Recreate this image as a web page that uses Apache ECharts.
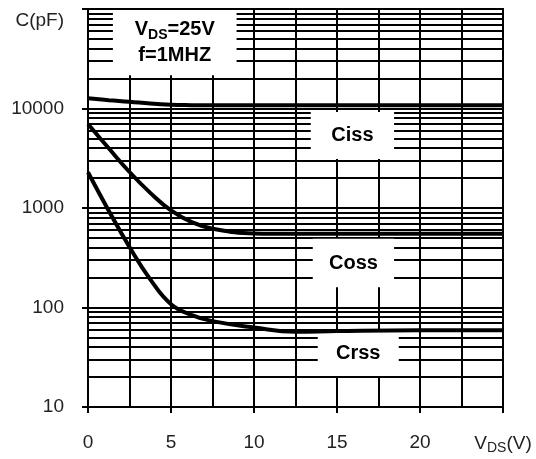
<!DOCTYPE html>
<html>
<head>
<meta charset="utf-8">
<script src="https://cdn.jsdelivr.net/npm/echarts@6/dist/echarts.min.js"></script>
<style>
  html, body { margin: 0; padding: 0; background: #fff; }
  #chart { width: 536px; height: 459px; }
</style>
</head>
<body>
<div id="chart"></div>
<script>
// Drain-source voltage samples (V) and the three capacitance curves (pF)
const voltage = [0, 1.25, 2.5, 3.75, 5, 6.25, 7.5, 10, 12.5, 15, 20, 25];
const ciss = [12650, 12130, 11700, 11200, 10900, 10800, 10750, 10750, 10750, 10750, 10750, 10750];
const coss = [7000, 3980, 2300, 1420, 945, 720, 620, 555, 550, 550, 550, 550];
const crss = [2290, 940, 405, 192, 108, 84, 73, 63, 57, 58, 59, 59];

// Axis ranges and log grid
const xMin = 0, xMax = 25, xStep = 5;
const yDecades = [10, 100, 1000, 10000, 100000];
const minorMultipliers = [2, 3, 4, 5, 6, 7, 8, 9];

const font = 'Liberation Sans, Arial, sans-serif';
const ink = '#000';
const labelInk = '#222';

// Horizontal lines at 2..9 x 10^n inside each decade
const minorGrid = [];
yDecades.slice(0, -1).forEach(d => {
  minorMultipliers.forEach(m => minorGrid.push({ yAxis: d * m }));
});

const toPoints = arr => voltage.map((v, i) => [v, arr[i]]);

const curveStyle = {
  type: 'line',
  smooth: 0.45,
  symbol: 'none',
  silent: true,
  z: 8,
  lineStyle: { color: ink, width: 4 }
};

const boxLabel = {
  show: true,
  position: 'inside',
  color: ink,
  fontFamily: font,
  fontSize: 20,
  fontWeight: 'bold'
};

const chart = echarts.init(document.getElementById('chart'));
chart.setOption({
  animation: false,
  backgroundColor: '#fff',
  grid: {
    left: 88, right: 33, top: 9, bottom: 52,
    show: true,
    borderColor: ink,
    borderWidth: 2,
    backgroundColor: 'transparent',
    z: 10,
    outerBoundsMode: 'none'
  },
  xAxis: {
    type: 'value',
    min: xMin,
    max: xMax,
    interval: xStep,
    axisLine: { show: true, lineStyle: { color: ink, width: 2 } },
    axisTick: { show: true, length: 6, lineStyle: { color: ink, width: 2 } },
    axisLabel: {
      margin: 26,
      fontFamily: font,
      fontSize: 19,
      color: labelInk,
      formatter: v => v === xMax ? '{v|V}{s|DS}{v|(V)}' : String(v),
      rich: {
        v: { fontFamily: font, fontSize: 19, color: labelInk, lineHeight: 22 },
        s: { fontFamily: font, fontSize: 14, color: labelInk, lineHeight: 22, verticalAlign: 'bottom' }
      }
    },
    splitLine: { show: true, lineStyle: { color: ink, width: 2 } },
    minorTick: { show: false, splitNumber: 2 },
    minorSplitLine: { show: true, lineStyle: { color: ink, width: 2 } }
  },
  yAxis: {
    type: 'log',
    logBase: 10,
    min: yDecades[0],
    max: yDecades[yDecades.length - 1],
    name: 'C(pF)',
    nameLocation: 'end',
    nameGap: -12,
    nameTextStyle: {
      fontFamily: font,
      fontSize: 19,
      color: labelInk,
      align: 'right',
      verticalAlign: 'middle',
      padding: [0, 24, 0, 0]
    },
    axisLine: { show: true, lineStyle: { color: ink, width: 2 } },
    axisTick: { show: true, length: 6, lineStyle: { color: ink, width: 2 } },
    axisLabel: {
      margin: 24,
      fontFamily: font,
      fontSize: 19,
      color: labelInk,
      formatter: v => v >= yDecades[yDecades.length - 1] ? '' : String(v)
    },
    splitLine: { show: true, lineStyle: { color: ink, width: 2 } }
  },
  series: [
    Object.assign({}, curveStyle, {
      name: 'Ciss',
      data: toPoints(ciss),
      markLine: {
        z: 2,
        silent: true,
        symbol: ['none', 'none'],
        label: { show: false },
        lineStyle: { color: ink, width: 2, type: 'solid', opacity: 1 },
        data: minorGrid
      },
      markArea: {
        z: 4,
        silent: true,
        itemStyle: { color: '#fff', opacity: 1, borderWidth: 0 },
        label: boxLabel,
        data: [
          [
            {
              name: 'cond',
              coord: [1.5, 100000],
              label: {
                formatter: '{b|V}{bs|DS}{b|=25V}\n{b|f=1MHZ}',
                rich: {
                  b: { fontFamily: font, fontSize: 20, fontWeight: 'bold', color: ink, lineHeight: 26 },
                  bs: { fontFamily: font, fontSize: 14, fontWeight: 'bold', color: ink, lineHeight: 26, verticalAlign: 'bottom' }
                }
              }
            },
            { coord: [8.95, 21600] }
          ],
          [{ name: 'Ciss', coord: [13.42, 9200], label: { formatter: 'Ciss' } }, { coord: [18.44, 3100] }],
          [{ name: 'Coss', coord: [13.54, 490], label: { formatter: 'Coss' } }, { coord: [18.44, 160] }],
          [{ name: 'Crss', coord: [13.84, 57], label: { formatter: 'Crss' } }, { coord: [18.72, 20.5] }]
        ]
      }
    }),
    Object.assign({}, curveStyle, { name: 'Coss', data: toPoints(coss) }),
    Object.assign({}, curveStyle, { name: 'Crss', data: toPoints(crss) })
  ]
});
</script>
</body>
</html>
